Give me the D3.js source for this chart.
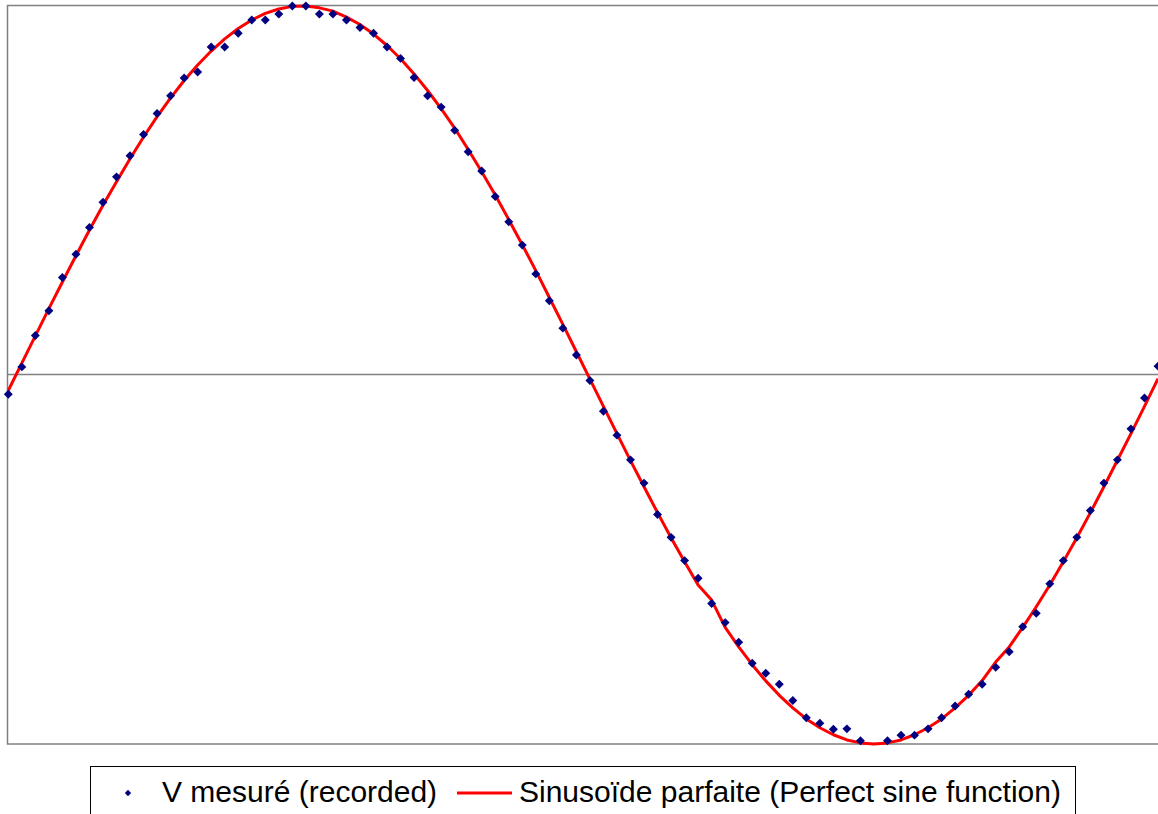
<!DOCTYPE html>
<html>
<head>
<meta charset="utf-8">
<script src="https://cdn.jsdelivr.net/npm/d3@7"></script>
<style>
  html, body { margin: 0; padding: 0; background: #fff; overflow: hidden; }
  svg { display: block; }
  text { font-family: "Liberation Sans", Arial, sans-serif; }
</style>
</head>
<body>
<svg width="1158" height="814"></svg>
<script>
// measured voltage, normalised to the peak (null = sample missing)
const measured = [
  -0.052, 0.022, 0.107, 0.174, 0.264, 0.327, 0.400, 0.468, 0.537, 0.594,
  0.652, 0.709, 0.757, 0.805, 0.821, 0.889, 0.889, 0.926, 0.962, 0.962,
  0.978, 1.000, 1.000, 0.978, 0.978, 0.962, 0.942, 0.926, 0.889, 0.858,
  0.806, 0.757, 0.726, 0.663, 0.605, 0.553, 0.484, 0.415, 0.352, 0.274,
  0.201, 0.127, 0.054, -0.015, -0.098, -0.163, -0.230, -0.293, -0.378, -0.440,
  -0.503, -0.551, -0.619, -0.671, -0.724, -0.781, -0.808, -0.838, -0.882, -0.929,
  -0.944, -0.960, -0.959, -0.991, null, -0.991, -0.976, -0.976, -0.959, -0.929,
  -0.897, -0.865, -0.838, -0.792, -0.750, -0.682, -0.646, -0.566, -0.503, -0.440,
  -0.367, -0.293, -0.230, -0.146, -0.062, 0.024
];

// perfect sine, read at the same samples
const sine = [
  -0.042, 0.032, 0.106, 0.180, 0.252, 0.323, 0.393, 0.460, 0.524, 0.586,
  0.645, 0.700, 0.751, 0.798, 0.840, 0.878, 0.911, 0.939, 0.962, 0.980,
  0.992, 0.999, 1.000, 0.995, 0.986, 0.970, 0.950, 0.924, 0.893, 0.857,
  0.816, 0.771, 0.722, 0.669, 0.611, 0.551, 0.488, 0.421, 0.353, 0.283,
  0.210, 0.137, 0.063, -0.011, -0.085, -0.159, -0.232, -0.303, -0.373, -0.441,
  -0.506, -0.569, -0.610, -0.684, -0.737, -0.785, -0.829, -0.868, -0.902, -0.932,
  -0.956, -0.975, -0.989, -0.997, -1.000, -0.997, -0.989, -0.975, -0.956, -0.932,
  -0.902, -0.868, -0.828, -0.778, -0.737, -0.684, -0.628, -0.569, -0.506, -0.441,
  -0.373, -0.303, -0.231, -0.159, -0.085, -0.010
];

const seriesNames = ["V mesuré (recorded)", "Sinusoïde parfaite (Perfect sine function)"];

const svg = d3.select("svg"),
      margin = {top: 6, right: -4, bottom: 70, left: 8},
      width = +svg.attr("width") - margin.left - margin.right,
      height = +svg.attr("height") - margin.top - margin.bottom;

const g = svg.append("g").attr("transform", `translate(${margin.left},${margin.top})`);

const x = d3.scaleLinear()
  .domain([0, measured.length - 1])
  .range([0.3, 1150]);

const y = d3.scaleLinear()
  .domain([-1, 1])
  .range([height, 0]);

// plot frame (gray)
g.append("rect")
  .attr("x", -0.5).attr("y", -0.5)
  .attr("width", width + 4).attr("height", height + 0.5)
  .attr("fill", "none")
  .attr("stroke", "#808080")
  .attr("stroke-width", 1.5);

// zero line
g.append("line")
  .attr("x1", 0).attr("x2", width + 4)
  .attr("y1", Math.round(y(0)) - 0.5).attr("y2", Math.round(y(0)) - 0.5)
  .attr("stroke", "#808080")
  .attr("stroke-width", 1.3);

const line = d3.line()
  .x((d, i) => x(i))
  .y(d => y(d));

g.append("path")
  .datum(sine)
  .attr("fill", "none")
  .attr("stroke", "#ff0000")
  .attr("stroke-width", 3)
  .attr("stroke-linejoin", "round")
  .attr("d", line);

const diamond = d3.symbol(d3.symbolSquare, 40);

g.selectAll(".pt")
  .data(measured.map((v, i) => ({i, v})).filter(d => d.v !== null))
  .enter().append("path")
    .attr("class", "pt")
    .attr("d", diamond)
    .attr("transform", d => `translate(${x(d.i)},${y(d.v)}) rotate(45)`)
    .attr("fill", "#000080");

// legend
const legend = svg.append("g");

legend.append("rect")
  .attr("x", 90.5).attr("y", 766.5)
  .attr("width", 985).attr("height", 80)
  .attr("fill", "#fff")
  .attr("stroke", "#000")
  .attr("stroke-width", 1);

legend.append("path")
  .attr("d", d3.symbol(d3.symbolSquare, 20))
  .attr("transform", "translate(128,793) rotate(45)")
  .attr("fill", "#000080");

legend.append("text")
  .attr("x", 162).attr("y", 802)
  .attr("font-size", 30)
  .attr("fill", "#000")
  .text(seriesNames[0]);

legend.append("line")
  .attr("x1", 457).attr("x2", 512)
  .attr("y1", 793).attr("y2", 793)
  .attr("stroke", "#ff0000")
  .attr("stroke-width", 3);

legend.append("text")
  .attr("x", 519).attr("y", 802)
  .attr("font-size", 30)
  .attr("fill", "#000")
  .text(seriesNames[1]);
</script>
</body>
</html>
